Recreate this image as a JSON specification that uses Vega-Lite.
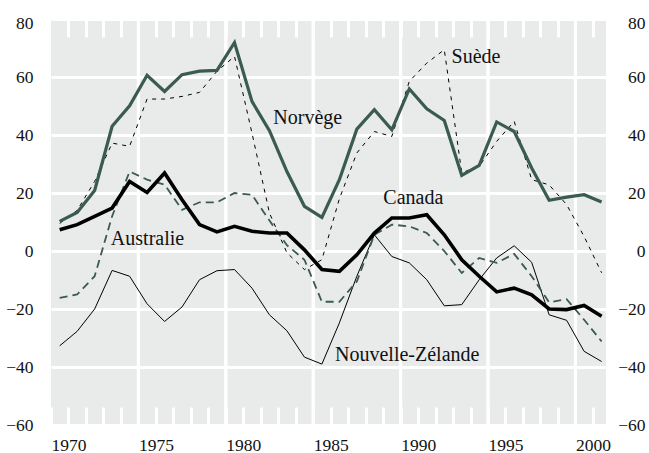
{
  "$schema": "https://vega.github.io/schema/vega-lite/v6.json",
  "width": 555,
  "height": 406,
  "autosize": {"type": "none"},
  "padding": {"left": 51, "top": 19, "right": 43, "bottom": 28},
  "background": "white",
  "view": {"fill": "#e8ebea", "stroke": null},
  "config": {
    "font": "'Liberation Serif', 'DejaVu Serif', serif",
    "axis": {"labelFont": "'Liberation Serif', 'DejaVu Serif', serif", "labelFontSize": 17.5, "labelColor": "#111", "domain": false, "title": null}
  },
  "datasets": {
    "series": [
      {"date": "1970-07-01", "Norvège": 10.2, "Suède": 9.5, "Canada": 7.3, "Australie": -16.2, "Nouvelle-Zélande": -32.7},
      {"date": "1971-07-01", "Norvège": 13.3, "Suède": 14, "Canada": 9.1, "Australie": -15, "Nouvelle-Zélande": -27.7},
      {"date": "1972-07-01", "Norvège": 20.9, "Suède": 24, "Canada": 11.9, "Australie": -8.7, "Nouvelle-Zélande": -20},
      {"date": "1973-07-01", "Norvège": 43, "Suède": 37.2, "Canada": 14.8, "Australie": 12, "Nouvelle-Zélande": -6.7},
      {"date": "1974-07-01", "Norvège": 50.1, "Suède": 36.1, "Canada": 24, "Australie": 27.4, "Nouvelle-Zélande": -8.7},
      {"date": "1975-07-01", "Norvège": 60.6, "Suède": 52.4, "Canada": 20.2, "Australie": 24.6, "Nouvelle-Zélande": -18.2},
      {"date": "1976-07-01", "Norvège": 55, "Suède": 52.4, "Canada": 26.9, "Australie": 22.9, "Nouvelle-Zélande": -24.3},
      {"date": "1977-07-01", "Norvège": 60.8, "Suède": 53.3, "Canada": 17.7, "Australie": 14.2, "Nouvelle-Zélande": -19.3},
      {"date": "1978-07-01", "Norvège": 62, "Suède": 54.7, "Canada": 9.1, "Australie": 16.8, "Nouvelle-Zélande": -9.9},
      {"date": "1979-07-01", "Norvège": 62.3, "Suède": 62, "Canada": 6.6, "Australie": 16.8, "Nouvelle-Zélande": -6.8},
      {"date": "1980-07-01", "Norvège": 71.9, "Suède": 67.1, "Canada": 8.5, "Australie": 20, "Nouvelle-Zélande": -6.4},
      {"date": "1981-07-01", "Norvège": 51.6, "Suède": 40.7, "Canada": 6.8, "Australie": 19.4, "Nouvelle-Zélande": -12.8},
      {"date": "1982-07-01", "Norvège": 41.5, "Suède": 13.1, "Canada": 6.2, "Australie": 10.5, "Nouvelle-Zélande": -22},
      {"date": "1983-07-01", "Norvège": 27.4, "Suède": -0.6, "Canada": 6.2, "Australie": 2, "Nouvelle-Zélande": -27.5},
      {"date": "1984-07-01", "Norvège": 15.4, "Suède": -6.4, "Canada": 0.4, "Australie": -3, "Nouvelle-Zélande": -36.6},
      {"date": "1985-07-01", "Norvège": 11.6, "Suède": -3, "Canada": -6.4, "Australie": -17.5, "Nouvelle-Zélande": -39},
      {"date": "1986-07-01", "Norvège": 24.6, "Suède": 18, "Canada": -7, "Australie": -17.5, "Nouvelle-Zélande": -24.8},
      {"date": "1987-07-01", "Norvège": 42, "Suède": 33.8, "Canada": -1.3, "Australie": -10.5, "Nouvelle-Zélande": -8.7},
      {"date": "1988-07-01", "Norvège": 48.7, "Suède": 41.2, "Canada": 6.2, "Australie": 5.6, "Nouvelle-Zélande": 5.6},
      {"date": "1989-07-01", "Norvège": 41.8, "Suède": 39.5, "Canada": 11.4, "Australie": 9.1, "Nouvelle-Zélande": -1.9},
      {"date": "1990-07-01", "Norvège": 55.9, "Suède": 58.5, "Canada": 11.4, "Australie": 8.5, "Nouvelle-Zélande": -4.1},
      {"date": "1991-07-01", "Norvège": 49, "Suède": 64.8, "Canada": 12.5, "Australie": 6.2, "Nouvelle-Zélande": -9.9},
      {"date": "1992-07-01", "Norvège": 45, "Suède": 69.4, "Canada": 5.6, "Australie": 0, "Nouvelle-Zélande": -18.9},
      {"date": "1993-07-01", "Norvège": 26.1, "Suède": 27, "Canada": -3, "Australie": -7.6, "Nouvelle-Zélande": -18.5},
      {"date": "1994-07-01", "Norvège": 29.5, "Suède": 29.2, "Canada": -8.7, "Australie": -2.4, "Nouvelle-Zélande": -9.9},
      {"date": "1995-07-01", "Norvège": 44.5, "Suède": 37.8, "Canada": -14.1, "Australie": -4.1, "Nouvelle-Zélande": -2.4},
      {"date": "1996-07-01", "Norvège": 41.2, "Suède": 44.7, "Canada": -12.8, "Australie": -1, "Nouvelle-Zélande": 1.8},
      {"date": "1997-07-01", "Norvège": 28.6, "Suède": 24.6, "Canada": -15.1, "Australie": -8.7, "Nouvelle-Zélande": -3.9},
      {"date": "1998-07-01", "Norvège": 17.5, "Suède": 22.8, "Canada": -20, "Australie": -17.7, "Nouvelle-Zélande": -22},
      {"date": "1999-07-01", "Norvège": 18.6, "Suède": 16, "Canada": -20.2, "Australie": -16.6, "Nouvelle-Zélande": -23.9},
      {"date": "2000-07-01", "Norvège": 19.4, "Suède": 5, "Canada": -18.8, "Australie": -23.7, "Nouvelle-Zélande": -34.6},
      {"date": "2001-07-01", "Norvège": 16.9, "Suède": -7.5, "Canada": -22.5, "Australie": -31.2, "Nouvelle-Zélande": -38.1}
    ],
    "labels": [
      {"date": "1982-09-20", "valeur": 43.9, "texte": "Norvège"},
      {"date": "1992-12-01", "valeur": 64.8, "texte": "Suède"},
      {"date": "1989-01-05", "valeur": 16.3, "texte": "Canada"},
      {"date": "1973-06-05", "valeur": 2.2, "texte": "Australie"},
      {"date": "1986-04-01", "valeur": -38.1, "texte": "Nouvelle-Zélande"}
    ],
    "quinquennats": [
      {"annee": "1975-01-01"}, {"annee": "1980-01-01"}, {"annee": "1985-01-01"},
      {"annee": "1990-01-01"}, {"annee": "1995-01-01"}, {"annee": "2000-01-01"}
    ]
  },
  "resolve": {"axis": {"x": "independent", "y": "independent"}},
  "layer": [
    {
      "data": {"name": "quinquennats"},
      "mark": {"type": "bar", "color": "white", "width": 3, "opacity": 1},
      "encoding": {
        "x": {"field": "annee", "type": "temporal", "axis": null},
        "y": {"datum": -60, "type": "quantitative", "axis": null},
        "y2": {"datum": 80}
      }
    },
    {
      "data": {"name": "quinquennats"},
      "mark": {"type": "rule", "color": "white", "strokeWidth": 3},
      "encoding": {
        "x": {"field": "annee", "type": "temporal", "axis": null},
        "y": {"datum": -60, "type": "quantitative", "axis": null},
        "y2": {"datum": 80}
      }
    },
    {
      "data": {"name": "series"},
      "mark": {"type": "rule", "color": "#555", "strokeWidth": 1.2},
      "encoding": {
        "x": {
          "field": "date", "type": "temporal",
          "scale": {"type": "utc", "nice": false, "padding": 0, "domain": [{"year": 1970, "month": 1, "date": 1, "utc": true}, {"year": 2001, "month": 10, "date": 1, "utc": true}]},
          "axis": {
            "orient": "bottom",
            "values": [
              {"year": 1970, "utc": true}, {"year": 1971, "utc": true}, {"year": 1972, "utc": true}, {"year": 1973, "utc": true}, {"year": 1974, "utc": true},
              {"year": 1975, "utc": true}, {"year": 1976, "utc": true}, {"year": 1977, "utc": true}, {"year": 1978, "utc": true}, {"year": 1979, "utc": true},
              {"year": 1980, "utc": true}, {"year": 1981, "utc": true}, {"year": 1982, "utc": true}, {"year": 1983, "utc": true}, {"year": 1984, "utc": true},
              {"year": 1985, "utc": true}, {"year": 1986, "utc": true}, {"year": 1987, "utc": true}, {"year": 1988, "utc": true}, {"year": 1989, "utc": true},
              {"year": 1990, "utc": true}, {"year": 1991, "utc": true}, {"year": 1992, "utc": true}, {"year": 1993, "utc": true}, {"year": 1994, "utc": true},
              {"year": 1995, "utc": true}, {"year": 1996, "utc": true}, {"year": 1997, "utc": true}, {"year": 1998, "utc": true}, {"year": 1999, "utc": true},
              {"year": 2000, "utc": true}, {"year": 2001, "utc": true}
            ],
            "labelExpr": "utcyear(datum.value) % 5 === 0 ? '' + utcyear(datum.value) : ''",
            "labelAlign": "left",
            "labelBaseline": "top",
            "labelPadding": 29.5,
            "labelFlush": false,
            "labelOverlap": false,
            "grid": false,
            "ticks": true,
            "tickColor": "white",
            "tickWidth": 3,
            "tickSize": -18
          }
        },
        "y": {
          "datum": 0, "type": "quantitative",
          "scale": {"domain": [-60, 80], "nice": false, "zero": false},
          "axis": {
            "orient": "left",
            "values": [-60, -40, -20, 0, 20, 40, 60, 80],
            "grid": true, "gridColor": "white", "gridWidth": 3,
            "ticks": false, "labelPadding": 18, "labelAlign": "right",
            "labelOffset": {"condition": {"test": "datum.value === 80", "value": 4}, "value": 0}
          }
        }
      }
    },
    {
      "data": {"name": "series"},
      "mark": {"type": "line", "color": "#000", "strokeWidth": 1},
      "encoding": {
        "x": {"field": "date", "type": "temporal", "axis": null},
        "y": {"field": "Nouvelle-Zélande", "type": "quantitative", "axis": null}
      }
    },
    {
      "data": {"name": "series"},
      "mark": {"type": "line", "color": "#3a5a52", "strokeWidth": 1.8, "strokeDash": [8, 5]},
      "encoding": {
        "x": {"field": "date", "type": "temporal", "axis": null},
        "y": {"field": "Australie", "type": "quantitative", "axis": null}
      }
    },
    {
      "data": {"name": "series"},
      "mark": {"type": "line", "color": "#000", "strokeWidth": 1, "strokeDash": [4, 5]},
      "encoding": {
        "x": {"field": "date", "type": "temporal", "axis": null},
        "y": {"field": "Suède", "type": "quantitative", "axis": null}
      }
    },
    {
      "data": {"name": "series"},
      "mark": {"type": "line", "color": "#3a5a52", "strokeWidth": 3.2, "strokeJoin": "miter"},
      "encoding": {
        "x": {"field": "date", "type": "temporal", "axis": null},
        "y": {"field": "Norvège", "type": "quantitative", "axis": null}
      }
    },
    {
      "data": {"name": "series"},
      "mark": {"type": "line", "color": "#000", "strokeWidth": 3.6, "strokeJoin": "miter"},
      "encoding": {
        "x": {"field": "date", "type": "temporal", "axis": null},
        "y": {"field": "Canada", "type": "quantitative", "axis": null}
      }
    },
    {
      "data": {"name": "labels"},
      "mark": {"type": "text", "align": "left", "baseline": "alphabetic", "fontSize": 20, "color": "#111"},
      "encoding": {
        "x": {
          "field": "date", "type": "temporal",
          "axis": {
            "orient": "top",
            "values": [
              {"year": 1971, "utc": true}, {"year": 1972, "utc": true}, {"year": 1973, "utc": true}, {"year": 1974, "utc": true},
              {"year": 1975, "utc": true}, {"year": 1976, "utc": true}, {"year": 1977, "utc": true}, {"year": 1978, "utc": true}, {"year": 1979, "utc": true},
              {"year": 1980, "utc": true}, {"year": 1981, "utc": true}, {"year": 1982, "utc": true}, {"year": 1983, "utc": true}, {"year": 1984, "utc": true},
              {"year": 1985, "utc": true}, {"year": 1986, "utc": true}, {"year": 1987, "utc": true}, {"year": 1988, "utc": true}, {"year": 1989, "utc": true},
              {"year": 1990, "utc": true}, {"year": 1991, "utc": true}, {"year": 1992, "utc": true}, {"year": 1993, "utc": true}, {"year": 1994, "utc": true},
              {"year": 1995, "utc": true}, {"year": 1996, "utc": true}, {"year": 1997, "utc": true}, {"year": 1998, "utc": true}, {"year": 1999, "utc": true},
              {"year": 2000, "utc": true}, {"year": 2001, "utc": true}
            ],
            "labels": false, "grid": false,
            "ticks": true, "tickColor": "white", "tickWidth": 3, "tickSize": -18
          }
        },
        "y": {
          "field": "valeur", "type": "quantitative",
          "axis": {
            "orient": "right",
            "values": [-60, -40, -20, 0, 20, 40, 60, 80],
            "grid": false, "ticks": false, "labelAlign": "right", "labelPadding": 39,
            "labelOffset": {"condition": {"test": "datum.value === 80", "value": 4}, "value": 0}
          }
        },
        "text": {"field": "texte"}
      }
    }
  ]
}
